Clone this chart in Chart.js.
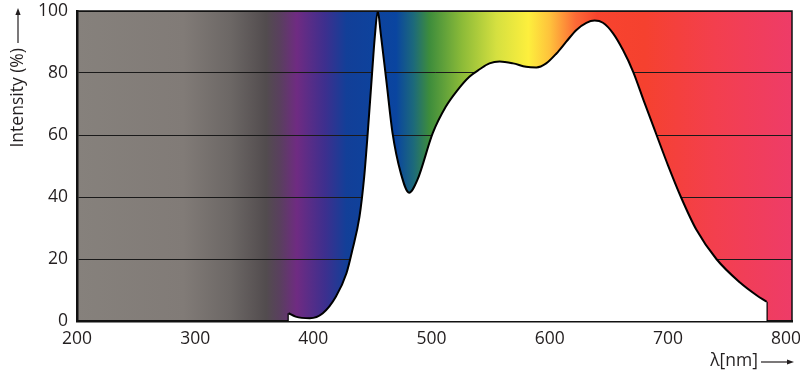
<!DOCTYPE html>
<html>
<head>
<meta charset="utf-8">
<script src="https://cdn.jsdelivr.net/npm/chart.js@4/dist/chart.umd.min.js"></script>
<style>
  body { margin: 0; background: #fff; }
</style>
</head>
<body>
<canvas id="spectrumChart" width="800" height="375"></canvas>
<script>
    // wavelength (nm) and relative intensity (%) of the LED spectrum
    var wavelengths = [379, 385, 397, 408, 419, 428, 433, 439, 443, 446, 449.5, 452, 454.5, 457, 462, 467, 474, 481, 488, 501, 512, 522, 532, 540.7, 549, 557.6, 569, 580, 588.7, 597, 605.7, 614, 622.6, 631, 638, 645, 653.6, 662, 670.6, 680, 690.4, 700, 711, 724, 741, 761, 775, 783.6];
    var intensity = [2.5, 1.4, 0.9, 2.5, 7.8, 15.4, 22.9, 33.6, 46.5, 60.6, 79, 91.7, 100, 92.8, 76.7, 60.6, 47.7, 41.4, 45.5, 60.6, 69.1, 74.5, 78.8, 81.2, 83.1, 83.7, 83.1, 82, 81.8, 83.1, 86.3, 90.1, 93.9, 96.2, 96.9, 96.2, 92.8, 87.4, 80.4, 70.6, 60, 50.3, 40, 29.5, 20, 12.4, 8.3, 6.2];
    var xTicks = [200, 300, 400, 500, 600, 700, 800];
    var yTicks = [0, 20, 40, 60, 80, 100];
    var xTitle = 'λ[nm]';
    var yTitle = 'Intensity (%)';

    // colour of the visible spectrum behind the curve
    var spectrum = [
        [200, '#86817c'], [290, '#817b77'], [330, '#6c6765'], [360, '#524c4e'],
        [372, '#5a3f5f'], [386, '#6f2b82'], [410, '#3d2f8e'], [428, '#123f98'],
        [470, '#0a45a0'], [485, '#1d6a7a'], [498, '#3d8c3c'], [526, '#8cbb38'],
        [555, '#d5e040'], [582, '#fdef3d'], [600, '#fec23c'], [622, '#fc6a36'],
        [640, '#f8442e'], [680, '#f5412f'], [740, '#f33f4e'], [805, '#ee3c68']
    ];

    var txt = '#231f20';
    var font = '17.5px "Open Sans"';

    function arrow(ctx, x1, y1, x2, y2) {
        var ang = Math.atan2(y2 - y1, x2 - x1), h = 7, w = 2.6;
        ctx.beginPath();
        ctx.moveTo(x1, y1);
        ctx.lineTo(x2 - h * Math.cos(ang), y2 - h * Math.sin(ang));
        ctx.stroke();
        ctx.beginPath();
        ctx.moveTo(x2, y2);
        ctx.lineTo(x2 - h * Math.cos(ang) - w * Math.sin(ang), y2 - h * Math.sin(ang) + w * Math.cos(ang));
        ctx.lineTo(x2 - h * Math.cos(ang) + w * Math.sin(ang), y2 - h * Math.sin(ang) - w * Math.cos(ang));
        ctx.closePath();
        ctx.fill();
    }

    var spectrumBg = {
        id: 'spectrumBg',
        beforeDraw: function(chart) {
            var ctx = chart.ctx, a = chart.chartArea, xs = chart.scales.x;
            ctx.save();
            ctx.fillStyle = '#fff';
            ctx.fillRect(0, 0, chart.width, chart.height);
            var x0 = xs.getPixelForValue(xs.min), x1 = xs.getPixelForValue(xs.max);
            var g = ctx.createLinearGradient(x0, 0, x1, 0);
            spectrum.forEach(function(s) {
                g.addColorStop((s[0] - xs.min) / (xs.max - xs.min), s[1]);
            });
            ctx.fillStyle = g;
            ctx.fillRect(a.left, a.top, a.right - a.left, a.bottom - a.top);
            ctx.restore();
        },
        afterDraw: function(chart) {
            var ctx = chart.ctx, a = chart.chartArea;
            ctx.save();
            // top and right frame
            ctx.strokeStyle = '#111';
            ctx.lineWidth = 1.5;
            ctx.beginPath();
            ctx.moveTo(a.left, a.top);
            ctx.lineTo(a.right, a.top);
            ctx.lineTo(a.right, a.bottom);
            ctx.stroke();

            // axis titles with arrows
            ctx.fillStyle = txt;
            ctx.strokeStyle = txt;
            ctx.lineWidth = 1.2;
            ctx.font = font;
            ctx.textBaseline = 'middle';
            ctx.textAlign = 'right';
            ctx.fillText(xTitle, a.right - 34, 361);
            arrow(ctx, a.right - 31, 362, a.right + 2, 362);

            arrow(ctx, 18, 43, 18, 8);
            ctx.translate(18, 0);
            ctx.rotate(-Math.PI / 2);
            ctx.fillText(yTitle, -48, 0);
            ctx.restore();
        }
    };

    var first = wavelengths.length ? 0 : 0, last = wavelengths.length - 1;
    var edge = { borderColor: '#000', borderWidth: 2, pointRadius: 0, fill: false, tension: 0 };

    var ctx1 = document.getElementById('spectrumChart').getContext('2d');
    var chart = new Chart(ctx1, {
        type: 'line',
        data: {
            datasets: [{
                data: wavelengths.map(function(w, i) { return { x: w, y: intensity[i] }; }),
                borderColor: '#000',
                borderWidth: 2,
                backgroundColor: '#fff',
                fill: 'origin',
                pointRadius: 0,
                cubicInterpolationMode: 'monotone'
            },
            Object.assign({ data: [{ x: wavelengths[first], y: 0 }, { x: wavelengths[first], y: intensity[first] }] }, edge),
            Object.assign({ data: [{ x: wavelengths[last], y: intensity[last] }, { x: wavelengths[last], y: 0 }] }, edge)
            ]
        },
        options: {
            responsive: false,
            animation: false,
            layout: { padding: { top: 11, right: 8 } },
            plugins: {
                legend: { display: false },
                tooltip: { enabled: false }
            },
            scales: {
                x: {
                    type: 'linear',
                    min: 200,
                    max: 805,
                    z: 1,
                    afterBuildTicks: function(s) { s.ticks = xTicks.map(function(v) { return { value: v }; }); },
                    afterFit: function(s) { s.height = 54; s.paddingLeft = 0; s.paddingRight = 0; },
                    grid: { display: false, drawTicks: false },
                    border: { display: true, color: '#111', width: 2.5 },
                    ticks: { color: txt, padding: 8, maxRotation: 0, font: { family: 'Open Sans', size: 17.5 } }
                },
                y: {
                    min: 0,
                    max: 100,
                    afterBuildTicks: function(s) { s.ticks = yTicks.map(function(v) { return { value: v }; }); },
                    afterFit: function(s) { s.width = 77; s.paddingTop = 0; s.paddingBottom = 0; },
                    grid: { color: '#1a1a1a', lineWidth: 1, drawTicks: false },
                    border: { display: true, color: '#111', width: 2.5 },
                    ticks: { color: txt, padding: 9, font: { family: 'Open Sans', size: 17.5 } }
                }
            }
        },
        plugins: [spectrumBg]
    });
</script>
</body>
</html>
